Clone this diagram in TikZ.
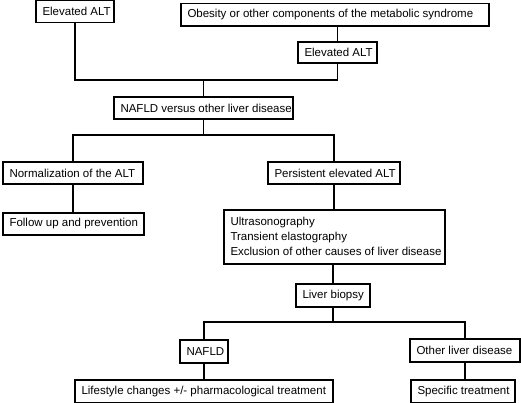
\documentclass[tikz,border=0pt]{standalone}
\usepackage{fontspec}
\setmainfont{Liberation Sans}
\newcommand{\bxt}[2]{\makebox[#1pt][l]{\hspace{6.5pt}#2}}
\begin{document}
\begin{tikzpicture}[x=1pt,y=-1pt,
  box/.style={draw=black, line width=1.8pt, fill=white, inner sep=0pt, font=\fontsize{11.5pt}{15pt}\selectfont},
  conn/.style={draw=black, line width=1.8pt}]
\fill[white] (0,0) rectangle (521,403);
\useasboundingbox (0,0) rectangle (521,403);
% nodes
\node[box, minimum width=78pt, minimum height=22pt] (b1) at (75,11.5) {\bxt{78}{Elevated ALT}};
\node[box, minimum width=308pt, minimum height=22.5pt] (b2) at (335,14.75) {\bxt{308}{Obesity or other components of the metabolic syndrome}};
\node[box, minimum width=79pt, minimum height=21.6pt] (b3) at (337.5,52.5) {\bxt{79}{Elevated ALT}};
\node[box, minimum width=179pt, minimum height=22pt] (b4) at (203.5,108) {\bxt{179}{NAFLD versus other liver disease}};
\node[box, minimum width=140pt, minimum height=22pt] (b5) at (73,173) {\bxt{140}{Normalization of the ALT}};
\node[box, minimum width=132pt, minimum height=22pt] (b6) at (334,173) {\bxt{132}{Persistent elevated ALT}};
\node[box, minimum width=141pt, minimum height=22pt] (b7) at (73.5,224) {\bxt{141}{Follow up and prevention}};
\node[box, minimum width=221pt, minimum height=54pt] (b8) at (334.5,237) {\bxt{221}{\begin{tabular}{@{}l@{}}Ultrasonography\\Transient elastography\\Exclusion of other causes of liver disease\end{tabular}}};
\node[box, minimum width=74pt, minimum height=23pt] (b9) at (333,295.5) {\bxt{74}{Liver biopsy}};
\node[box, minimum width=48pt, minimum height=23pt] (b10) at (204,351.5) {\bxt{48}{NAFLD}};
\node[box, minimum width=110pt, minimum height=23pt] (b11) at (465,350.5) {\bxt{110}{Other liver disease}};
\node[box, minimum width=258pt, minimum height=22.5pt] (b12) at (204,391.25) {\bxt{258}{Lifestyle changes +/- pharmacological treatment}};
\node[box, minimum width=104pt, minimum height=22.5pt] (b13) at (463,391.25) {\bxt{104}{Specific treatment}};
% junctions
\coordinate (j1) at (203.5,80);
\coordinate (j2) at (203.5,135);
\coordinate (j3) at (333,322);
% connectors
\draw[conn] (b3.north |- b2.south) -- (b3.north);
\draw[conn] (b1.south) |- (j1) -| (b3.south);
\draw[conn] (j1) -- (b4.north);
\draw[conn] (b4.south) -- (j2);
\draw[conn] (b5.north) |- (j2) -| (b6.north);
\draw[conn] (b5.south) -- (b5.south |- b7.north);
\draw[conn] (b6.south) -- (b6.south |- b8.north);
\draw[conn] (b9.north |- b8.south) -- (b9.north);
\draw[conn] (b9.south) -- (j3);
\draw[conn] (b10.north) |- (j3) -| (b11.north);
\draw[conn] (b10.south) -- (b12.north);
\draw[conn] (b11.south) -- (b11.south |- b13.north);
\end{tikzpicture}
\end{document}
